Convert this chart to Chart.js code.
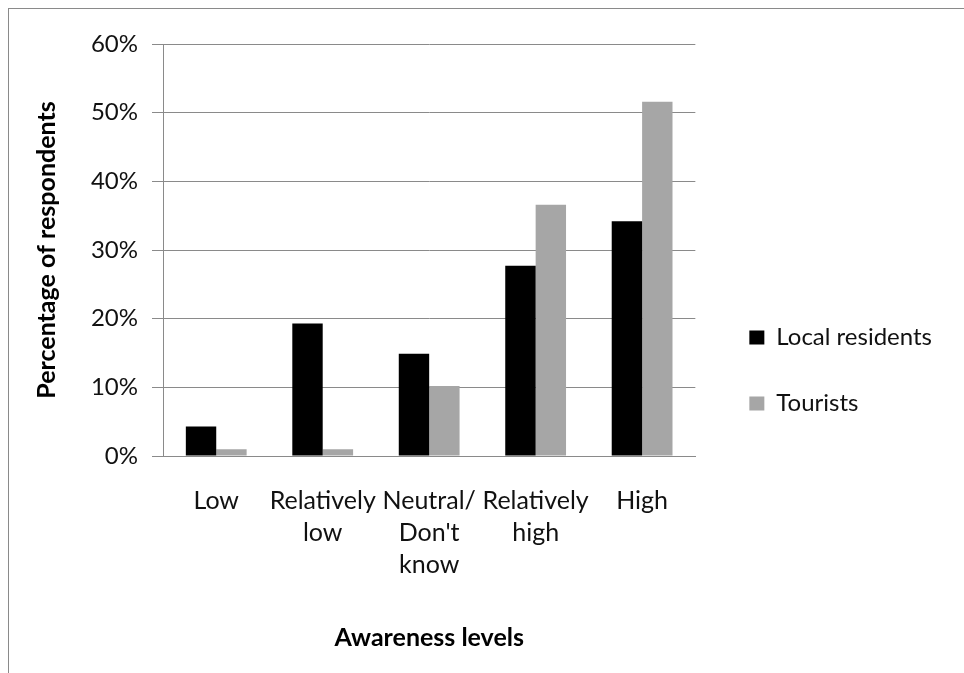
<!DOCTYPE html>
<html><head><meta charset="utf-8">
<script src="https://cdn.jsdelivr.net/npm/chart.js@4"></script>
<style>
html,body{margin:0;padding:0;background:#fff;}
#wrap{position:relative;width:964px;height:673px;}
#frame{position:absolute;left:8px;top:8px;width:960px;height:670px;border-top:1px solid #8a8a8a;border-left:1px solid #8a8a8a;pointer-events:none;}
canvas{position:absolute;left:0;top:0;}
</style></head>
<body>
<div id="wrap"><canvas id="c" width="964" height="673"></canvas><div id="frame"></div></div>
<script>
const categories = [['Low'], ['Relatively', 'low'], ['Neutral/', "Don't", 'know'], ['Relatively', 'high'], ['High']];
const localResidents = [4.3, 19.3, 14.9, 27.7, 34.2];
const tourists = [1.0, 1.0, 10.2, 36.6, 51.6];
const yTicks = [0, 10, 20, 30, 40, 50, 60];

const FONT = 'Lato, "Open Sans", sans-serif';
const GRID = '#8a8a8a';

new Chart(document.getElementById('c'), {
  type: 'bar',
  data: {
    labels: categories,
    datasets: [
      { label: 'Local residents', data: localResidents, backgroundColor: '#000000', yAxisID: 'y' },
      { label: 'Tourists', data: tourists, backgroundColor: '#a6a6a6', yAxisID: 'y' }
    ]
  },
  options: {
    responsive: false,
    animation: false,
    devicePixelRatio: 1,
    categoryPercentage: 0.571,
    barPercentage: 1.0,
    layout: { padding: { top: 44, right: 22, left: 0, bottom: 0 } },
    plugins: {
      tooltip: { enabled: false },
      legend: {
        position: 'right',
        title: { display: true, text: ' ', color: 'rgba(0,0,0,0)', font: { size: 10 }, padding: 6 },
        labels: {
          boxWidth: 15, boxHeight: 14, padding: 42,
          color: '#111', font: { family: FONT, size: 24 }
        }
      }
    },
    scales: {
      x: {
        grid: { display: false },
        border: { display: true, color: GRID },
        ticks: { color: '#111', font: { family: FONT, size: 25, lineHeight: 1.28 }, padding: 21, maxRotation: 0, autoSkip: false },
        title: { display: true, text: 'Awareness levels', color: '#000', font: { family: FONT, size: 25, weight: 'bold' }, padding: { top: 0, bottom: 20 } },
        afterFit: s => { s.height = 217; }
      },
      y: {
        min: 0, max: 60,
        afterBuildTicks: s => { s.ticks = yTicks.map(v => ({ value: v })); },
        ticks: { color: '#111', font: { family: FONT, size: 24 }, padding: 14, callback: v => v + '%' },
        grid: { color: GRID, lineWidth: 1, tickLength: 11, drawTicks: true },
        border: { display: true, color: GRID },
        title: { display: true, text: 'Percentage of respondents', color: '#000', font: { family: FONT, size: 25, weight: 'bold' }, padding: { top: 32, bottom: 0 } },
        afterFit: s => { s.width = 163; }
      },
      gap: {
        position: 'right',
        display: false,
        afterFit: s => { s.width = 12; }
      }
    }
  }
});
</script>
</body></html>
